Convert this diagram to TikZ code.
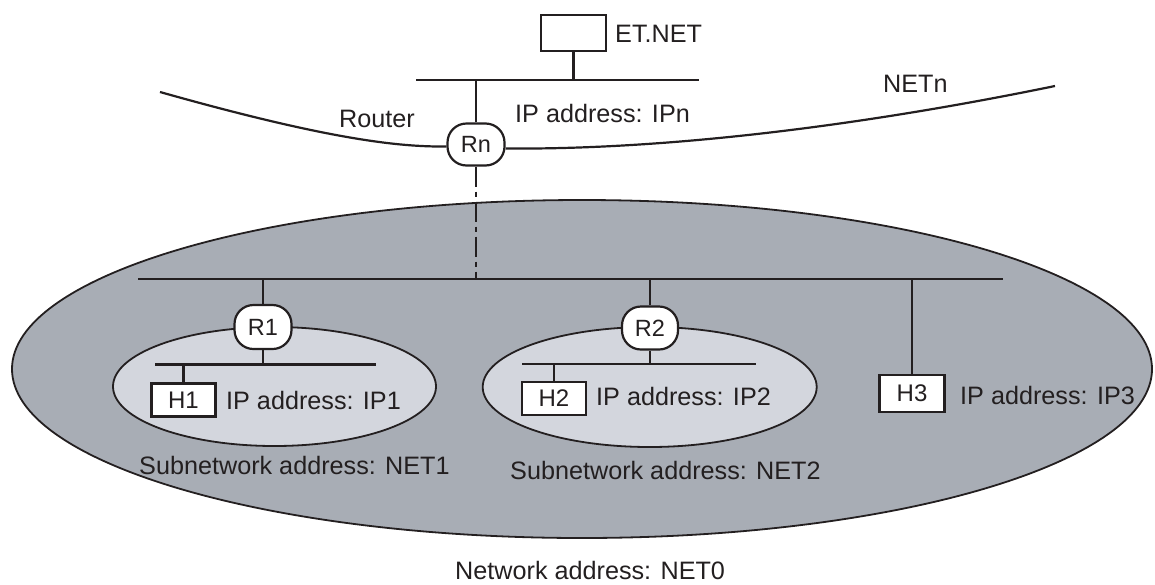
\documentclass[tikz,border=0pt]{standalone}
\usepackage{fontspec}
\setmainfont{Liberation Sans}
\begin{document}
\begin{tikzpicture}[x=1pt,y=-1pt,
  ink/.style={draw=lineink,line width=2.2pt},
  router/.style={draw=lineink,line width=2.2pt,fill=white,rounded corners=19pt,
    minimum width=57pt,minimum height=42pt,inner sep=0pt,text=lineink,
    font=\fontsize{23.5}{27}\selectfont},
  hostbox/.style={draw=lineink,line width=2.2pt,fill=white,
    minimum width=64pt,minimum height=33pt,inner sep=0pt,text=lineink,
    font=\fontsize{24}{28}\selectfont},
  lbl/.style={anchor=west,inner sep=0pt,text=lineink,text height=18pt,text depth=0pt,
    font=\fontsize{25.2}{30}\selectfont},
  netfill/.style={fill=netgrey,draw=lineink,line width=1.8pt},
  subfill/.style={fill=subgrey,draw=lineink,line width=1.8pt}]
\definecolor{lineink}{HTML}{231F20}
\definecolor{netgrey}{HTML}{A8ADB5}
\definecolor{subgrey}{HTML}{D3D6DD}
\useasboundingbox (0,0) rectangle (1155,584);

% network NET0 and its two subnetworks
\path[netfill] (582,369) ellipse [x radius=570pt, y radius=169pt];
\path[subfill] (274.5,386.5) ellipse [x radius=161.5pt, y radius=59.5pt];
\path[subfill] (649.7,387) ellipse [x radius=167pt, y radius=60pt];

% bus end points
\coordinate (topL) at (416,80);
\coordinate (topR) at (699,80);
\coordinate (mainL) at (138,279);
\coordinate (mainR) at (1003,279);
\coordinate (sub1L) at (155,364.5);
\coordinate (sub1R) at (376,364.5);
\coordinate (sub2L) at (522,364);
\coordinate (sub2R) at (756,364);
\coordinate (netL) at (160,92);
\coordinate (netR) at (1055,86);

% buses
\draw[ink] (topL) -- (topR);
\draw[ink] (mainL) -- (mainR);
\draw[ink] (sub1L) -- (sub1R);
\draw[ink] (sub2L) -- (sub2R);

% devices
\node[hostbox,minimum width=65pt,minimum height=36pt] (et) at (573.5,33) {};
\node[router] (Rn) at (476,144.5) {Rn};
\node[router,minimum height=44pt] (R1) at (263,327) {R1};
\node[router,minimum width=56pt,minimum height=43pt] (R2) at (650,328) {R2};
\node[hostbox] (H1) at (183.5,400) {H1};
\node[hostbox] (H2) at (554,398.5) {H2};
\node[hostbox,minimum width=65pt,minimum height=37pt] (H3) at (912,393.5) {H3};

% NETn backbone
\draw[ink] (netL) .. controls (330,140) and (400,147) .. ([yshift=-2pt]Rn.west);
\draw[ink] ([yshift=-4pt]Rn.east) .. controls (680,150) and (880,122) .. (netR);

% drops to the buses
\draw[ink] (et.south) -- (et.south |- topL);
\draw[ink] (Rn.north) -- (Rn.north |- topL);
\draw[ink,dash pattern=on 20pt off 5pt on 5pt off 5pt]
  (Rn.south) -- (Rn.south |- mainL);
\draw[ink] (R1.north) -- (R1.north |- mainL);
\draw[ink] (R1.south) -- (R1.south |- sub1L);
\draw[ink] (R2.north) -- (R2.north |- mainL);
\draw[ink] (R2.south) -- (R2.south |- sub2L);
\draw[ink] (H1.north) -- (H1.north |- sub1L);
\draw[ink] (H2.north) -- (H2.north |- sub2L);
\draw[ink] (H3.north) -- (H3.north |- mainL);

% labels
\node[lbl] (tET) at (615,33) {ET.NET};
\node[lbl] (tIPn) at (515,113) {IP address: IPn};
\node[lbl] (tRouter) at (339,118) {Router};
\node[lbl] (tNETn) at (883,83) {NETn};
\node[lbl] (tIP1) at (226,400) {IP address: IP1};
\node[lbl] (tIP2) at (596,396) {IP address: IP2};
\node[lbl] (tIP3) at (960,395) {IP address: IP3};
\node[lbl] (tNET1) at (139,465) {Subnetwork address: NET1};
\node[lbl] (tNET2) at (510,470) {Subnetwork address: NET2};
\node[lbl] (tNET0) at (455,570) {Network address: NET0};
\end{tikzpicture}
\end{document}
